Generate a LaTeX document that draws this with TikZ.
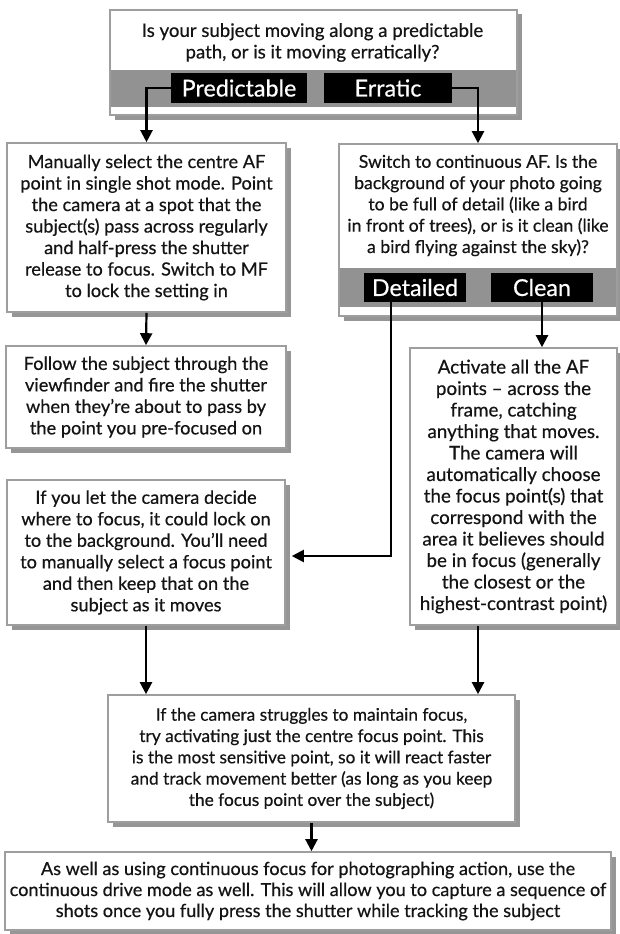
\documentclass[tikz,border=0pt]{standalone}
\usepackage{fontspec}
\setmainfont{Lato}[FakeBold=0.5]
\usetikzlibrary{arrows.meta,shadows}

\definecolor{edgegray}{RGB}{158,158,158}
\definecolor{shadowgray}{RGB}{150,150,150}
\definecolor{bandgray}{RGB}{146,146,146}
\definecolor{inktext}{RGB}{20,20,20}

\newcommand\cardfont{\fontsize{18.2}{21.5}\selectfont}
\newcommand\tagfont{\fontsize{23.3}{26}\selectfont}

\begin{document}
\begin{tikzpicture}[x=1pt,y=-1pt,
  card/.style={draw=edgegray, line width=1.6pt, fill=white,
    drop shadow={shadow xshift=4.5pt, shadow yshift=-4.5pt, fill=shadowgray, opacity=1},
    inner sep=0pt, align=center, font=\cardfont, text=inktext},
  words/.style={inner sep=0pt, align=center, font=\cardfont, text=inktext},
  tag/.style={fill=black, text=white, inner sep=0pt, font=\tagfont},
  link/.style={line width=2.2pt, -{Triangle[length=12pt,width=12pt]}}]

\useasboundingbox (0,0) rectangle (620,934);

% question box at the top with its answer band
\node[card, minimum width=407pt, minimum height=105pt] (q1) at (313.5,62.5) {};
\fill[bandgray] (110.8,70) rectangle (516.2,107);
\node[words, font=\fontsize{18.6}{21.5}\selectfont] (q1text) at (312.5,42.5)
  {Is your subject moving along a predictable\\path, or is it moving erratically?};
\node[tag, minimum width=136pt, minimum height=30pt] (pred) at (239,88) {Predictable};
\node[tag, minimum width=128pt, minimum height=30pt] (err) at (388,88) {Erratic};

% predictable branch
\node[card, minimum width=279pt, minimum height=169pt] (manual) at (146.5,227.5)
  {Manually select the centre AF\\
   point in single shot mode. Point\\
   the camera at a spot that the\\
   subject(s) pass across regularly\\
   and half-press the shutter\\
   release to focus. Switch to MF\\
   to lock the setting in};
\node[card, minimum width=280pt, minimum height=102pt] (follow) at (146,397)
  {Follow the subject through the\\
   viewfinder and fire the shutter\\
   when they’re about to pass by\\
   the point you pre-focused on};

% erratic branch: second question with its answer band
\node[card, minimum width=278pt, minimum height=172pt] (q2) at (478,230) {};
\fill[bandgray] (339.8,268) rectangle (616.2,307);
\node[words, font=\fontsize{17.6}{21.3}\selectfont] (q2text) at (478,205.5)
  {Switch to continuous AF. Is the\\
   background of your photo going\\
   to be full of detail (like a bird\\
   in front of trees), or is it clean (like\\
   a bird flying against the sky)?};
\node[tag, minimum width=102pt, minimum height=29pt] (det) at (415,287.5) {Detailed};
\node[tag, minimum width=102pt, minimum height=29pt] (clean) at (542,287.5) {Clean};

\node[card, minimum width=207pt, minimum height=277pt, font=\fontsize{18.8}{21.5}\selectfont]
  (activate) at (513.5,486.5)
  {Activate all the AF\\
   points – across the\\
   frame, catching\\
   anything that moves.\\
   The camera will\\
   automatically choose\\
   the focus point(s) that\\
   correspond with the\\
   area it believes should\\
   be in focus (generally\\
   the closest or the\\
   highest-contrast point)};
\node[card, minimum width=278pt, minimum height=145pt] (iflet) at (146,552.5)
  {If you let the camera decide\\
   where to focus, it could lock on\\
   to the background. You’ll need\\
   to manually select a focus point\\
   and then keep that on the\\
   subject as it moves};

% shared steps
\node[card, minimum width=407pt, minimum height=127pt, font=\fontsize{17.3}{21.3}\selectfont]
  (mid) at (311.5,758.5)
  {If the camera struggles to maintain focus,\\
   try activating just the centre focus point. This\\
   is the most sensitive point, so it will react faster\\
   and track movement better (as long as you keep\\
   the focus point over the subject)};
\node[card, minimum width=606pt, minimum height=78pt, font=\fontsize{18.1}{21}\selectfont]
  (final) at (308,891)
  {As well as using continuous focus for photographing action, use the\\
   continuous drive mode as well. This will allow you to capture a sequence of\\
   shots once you fully press the shutter while tracking the subject};

% connectors
\draw[link] (pred.west) -| (manual.north);
\draw[link] (err.east) -| (q2.north);
\draw[link] (manual.south) -- (follow.north);
\draw[link] ([xshift=-24pt]det.south) |- ([yshift=-3.5pt, xshift=6pt]iflet.east);
\draw[link] (clean.south) -- (clean.south |- activate.north);
\draw[link] (iflet.south) -- (iflet.south |- mid.north);
\draw[link] (q2.south |- activate.south) -- (q2.south |- mid.north);
\draw[link] (mid.south) -- (mid.south |- final.north);
\end{tikzpicture}
\end{document}
